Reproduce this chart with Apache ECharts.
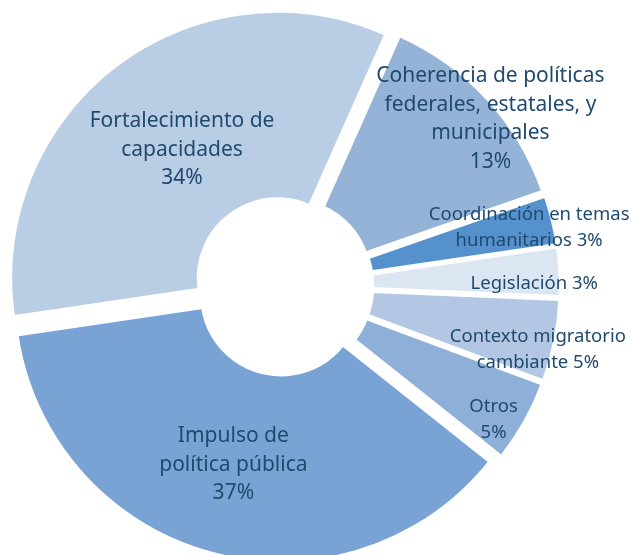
<!DOCTYPE html>
<html lang="es">
<head>
    <meta charset="UTF-8">
    <title>Distribución de temas</title>
    <script src="https://cdn.jsdelivr.net/npm/echarts@6.0.0/dist/echarts.min.js"></script>
    <style>
        html, body { margin: 0; padding: 0; background: #fff; }
        #chart { width: 632px; height: 555px; }
    </style>
</head>
<body>
    <div id="chart"></div>
    <script>
        // categorías (en el orden del gráfico, en sentido horario)
        const categories = [
            'Coherencia de políticas federales, estatales, y municipales',
            'Coordinación en temas humanitarios',
            'Legislación',
            'Contexto migratorio cambiante',
            'Otros',
            'Impulso de política pública',
            'Fortalecimiento de capacidades'
        ];
        // porcentajes
        const values = [13, 3, 3, 5, 5, 37, 34];
        // texto de etiqueta con saltos de línea (el % se añade después)
        const labelNames = [
            'Coherencia de políticas\nfederales, estatales, y\nmunicipales\n',
            'Coordinación en temas\nhumanitarios ',
            'Legislación ',
            'Contexto migratorio\ncambiante ',
            'Otros\n',
            'Impulso de\npolítica pública\n',
            'Fortalecimiento de\ncapacidades\n'
        ];

        const colors = ['#95b3d7', '#5591cc', '#dce6f2', '#b3c6e3', '#8eb0d8', '#78a3d4', '#b9cde5'];
        // desplazamiento de las etiquetas respecto a su posición interior
        const labelShift = [[70, -41], [65, -14], [65, 7], [72, 27], [48, 42], [-2, -1], [11, 12]];
        const bigLabel = [true, false, false, false, false, true, true];

        const chart = echarts.init(document.getElementById('chart'));

        const data = categories.map((name, i) => ({
            name: name,
            value: values[i],
            selected: true,
            itemStyle: { color: colors[i] },
            label: {
                fontSize: bigLabel[i] ? 21 : 18.5,
                lineHeight: bigLabel[i] ? 28.5 : 26
            }
        }));

        chart.setOption({
            animation: false,
            series: [{
                type: 'pie',
                center: [283.5, 286],
                radius: [79, 267],
                startAngle: 66,
                clockwise: true,
                selectedMode: 'multiple',
                selectedOffset: 10,
                avoidLabelOverlap: false,
                itemStyle: { borderColor: '#fff', borderWidth: 3.5 },
                emphasis: { disabled: true },
                label: {
                    show: true,
                    position: 'inside',
                    color: '#1f4a6e',
                    fontFamily: 'Noto Sans',
                    align: 'center',
                    formatter: p => labelNames[p.dataIndex] + p.value + '%'
                },
                labelLine: { show: false },
                labelLayout: function (params) {
                    const s = labelShift[params.dataIndex];
                    return { dx: s[0], dy: s[1] };
                },
                data: data
            }]
        });
    </script>
</body>
</html>
